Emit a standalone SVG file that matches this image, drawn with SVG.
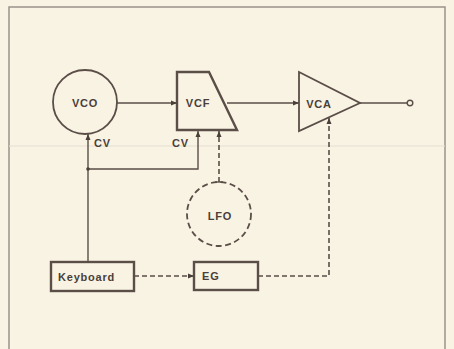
<svg xmlns="http://www.w3.org/2000/svg" width="454" height="349" viewBox="0 0 454 349">
<defs>
<style>
.ln{fill:none;stroke:#5a4e47;stroke-width:1.4}
.dl{fill:none;stroke:#5a4e47;stroke-width:1.6;stroke-dasharray:5,3}
.box{fill:none;stroke:#5a4e47;stroke-width:2.4}
.nd{fill:none;stroke:#5a4e47;stroke-width:1.8}
.t{font-family:"Liberation Sans",Arial,sans-serif;font-weight:bold;font-size:11px;letter-spacing:0.8px;fill:#4a3f39}
</style>
<marker id="ah" viewBox="0 0 6 6" refX="6" refY="3" markerWidth="6" markerHeight="6" markerUnits="userSpaceOnUse" orient="auto">
<path d="M0,0.5 L6,3 L0,5.5 Z" fill="#4a3f39"/>
</marker>
</defs>
<rect x="0" y="0" width="454" height="349" fill="#f9f3e4"/>
<path d="M9,349 V7 H445 V349" fill="none" stroke="#9a938a" stroke-width="1.5"/>
<line x1="9" y1="146" x2="445" y2="146" stroke="#e6dfd2" stroke-width="1"/>

<g id="vco"><circle cx="85" cy="102" r="32" class="nd"/><text class="t" x="85" y="107" text-anchor="middle">VCO</text></g>
<g id="vcf"><path d="M177,72 L209,72 L237,130 L177,130 Z" class="box"/><text class="t" x="198" y="107" text-anchor="middle">VCF</text></g>
<g id="vca"><path d="M299,72 L360,103 L299,131 Z" class="nd"/><text class="t" x="319" y="108" text-anchor="middle">VCA</text></g>
<g id="out"><circle cx="410" cy="103" r="2.8" fill="none" stroke="#5a4e47" stroke-width="1.4"/></g>
<g id="lfo"><circle cx="219" cy="214" r="32" class="nd" stroke-dasharray="6,3.5"/><text class="t" x="220" y="220" text-anchor="middle">LFO</text></g>
<g id="keyboard"><rect x="51" y="262" width="83" height="29" class="box"/><text class="t" x="58" y="281">Keyboard</text></g>
<g id="eg"><rect x="194" y="262" width="64" height="28" class="box"/><text class="t" x="202" y="280">EG</text></g>

<g id="connectors">
<line x1="117" y1="103" x2="177" y2="103" class="ln" marker-end="url(#ah)"/>
<line x1="227" y1="103" x2="299" y2="103" class="ln" marker-end="url(#ah)"/>
<line x1="360" y1="103" x2="407" y2="103" class="ln"/>
<line x1="88" y1="262" x2="88" y2="134" class="ln" marker-end="url(#ah)"/>
<polyline points="88,169 198,169 198,131" class="ln" marker-end="url(#ah)"/>
<circle cx="88" cy="169" r="1.8" fill="#4a3f39"/>
<line x1="219" y1="182" x2="219" y2="131" class="dl" marker-end="url(#ah)"/>
<line x1="215" y1="182" x2="223" y2="182" class="ln"/>
<line x1="134" y1="276" x2="194" y2="276" class="dl" marker-end="url(#ah)"/>
<polyline points="258,276 329,276 329,118" class="dl" marker-end="url(#ah)"/>
<text class="t" x="94" y="147">CV</text>
<text class="t" x="172" y="147">CV</text>
</g>
</svg>
